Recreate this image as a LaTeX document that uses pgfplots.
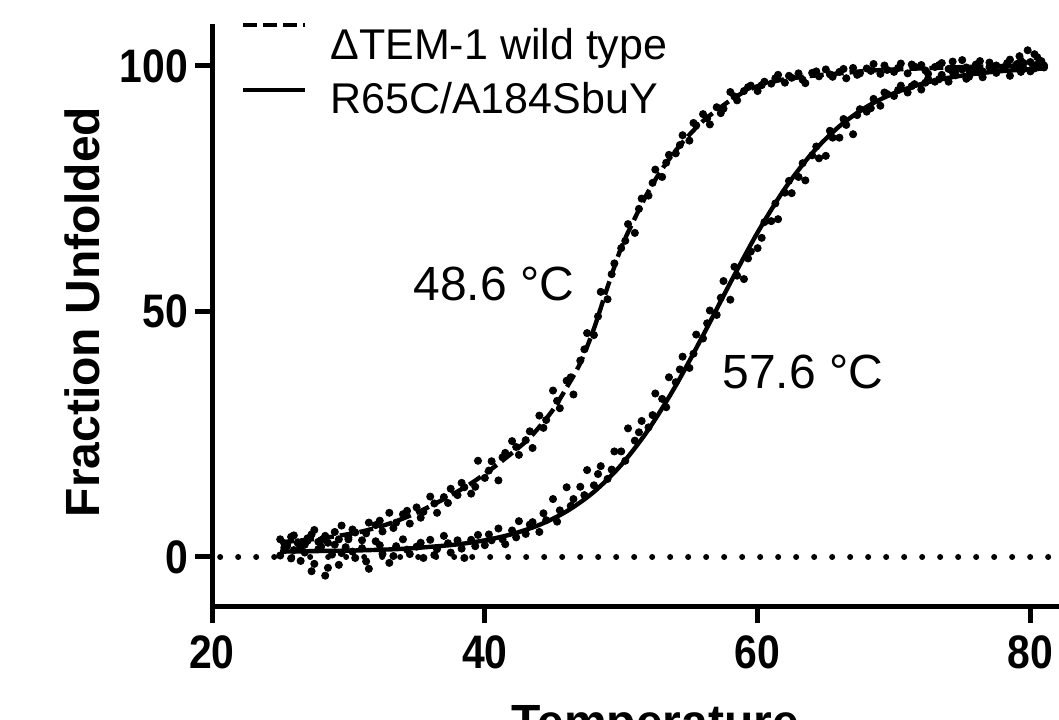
\documentclass[border=0pt]{standalone}
\usepackage{fontspec}
\setmainfont{Liberation Sans}
\newfontfamily\tickfont{Liberation Sans}[FakeStretch=0.87]
\usepackage{pgfplots}
\pgfplotsset{compat=1.18}

% scattered readings, wild type
\pgfplotstableread{
x y
25.0 3.6
25.5 2.2
26.0 4.4
26.5 1.9
27.0 3.8
27.5 5.5
28.0 3.4
28.5 2.9
29.0 5.1
29.5 6.4
30.0 4.0
30.5 5.0
31.0 3.4
31.5 7.0
32.0 6.5
32.5 5.2
33.0 9.0
33.5 7.0
34.0 8.7
34.5 6.8
35.0 10.1
35.5 9.2
36.0 12.3
36.5 9.0
37.0 12.2
37.5 13.9
38.0 12.6
38.5 14.2
39.0 12.9
39.5 19.6
40.0 16.1
40.5 19.5
41.0 15.6
41.5 21.2
42.0 23.6
42.5 20.8
43.0 23.8
43.5 22.2
44.0 28.8
44.5 27.9
45.0 33.9
45.5 30.3
46.0 35.9
46.5 33.1
47.0 40.0
47.5 45.6
48.0 45.2
48.5 54.0
49.0 52.5
49.5 59.8
50.0 62.9
50.5 67.8
51.0 66.0
51.5 73.0
52.0 73.6
52.5 78.9
53.0 77.4
53.5 81.9
54.0 82.2
54.5 85.9
55.0 84.8
55.5 87.9
56.0 90.2
56.5 88.1
57.0 91.6
57.5 91.3
58.0 94.7
58.5 93.0
59.0 94.9
59.5 96.0
60.0 94.9
60.5 96.8
61.0 96.4
61.5 98.2
62.0 96.6
62.5 97.6
63.0 98.5
63.5 96.5
64.0 98.6
64.5 97.9
65.0 99.3
65.5 97.8
66.0 98.8
66.5 97.5
67.0 99.6
67.5 98.5
68.0 99.5
68.5 100.4
69.0 98.4
69.5 99.2
70.0 98.8
70.5 100.5
71.0 98.5
71.5 99.9
72.0 100.2
72.5 98.4
73.0 99.8
73.5 100.6
74.0 99.4
74.5 99.0
75.0 101.2
75.5 99.2
76.0 100.3
76.5 98.9
77.0 100.7
77.5 100.1
78.0 99.6
78.5 101.3
79.0 100.4
79.2 102.0
79.5 99.4
79.8 103.2
80.0 100.8
80.3 102.4
80.5 101.8
81.0 100.1
25.3 2.8
25.8 4.1
26.3 3.0
26.8 2.5
27.3 4.6
27.8 3.1
28.3 4.3
29.3 3.6
30.3 5.6
31.3 4.8
32.3 7.4
33.3 5.9
34.3 9.4
35.3 8.0
36.3 10.9
37.3 11.0
38.3 15.1
39.3 14.3
40.3 17.6
41.3 20.3
42.3 22.4
43.3 25.6
44.3 26.3
45.3 31.8
46.3 36.6
47.3 42.3
48.3 49.0
49.3 57.6
50.3 64.4
51.3 70.9
52.3 76.2
53.3 80.3
54.3 83.9
55.3 88.4
56.3 89.3
57.3 90.4
58.3 93.8
59.3 95.7
60.3 96.1
61.3 97.5
62.3 98.0
63.3 97.2
64.3 98.9
65.3 98.3
66.3 99.4
67.3 98.2
68.3 99.0
69.3 100.1
70.3 99.6
71.3 100.3
72.3 99.1
73.3 100.2
74.3 100.9
75.3 99.7
76.3 101.0
77.3 99.3
78.3 100.6
79.3 101.1
80.3 99.8
80.8 101.0
}\wtdata

% scattered readings, R65C/A184SbuY
\pgfplotstableread{
x y
25.0 0.3
25.5 2.6
26.0 1.4
26.5 -0.8
27.0 3.3
27.5 -1.4
28.0 2.1
28.5 -2.2
29.0 2.5
29.5 0.8
30.0 3.6
30.5 -0.2
31.0 1.8
31.5 -2.4
32.0 3.2
32.5 0.6
33.0 -1.2
33.5 2.2
34.0 3.6
34.5 0.6
35.0 2.1
35.5 -0.2
36.0 3.5
36.5 1.6
37.0 4.3
37.5 0.9
38.0 3.4
38.5 -0.2
39.0 3.5
39.5 4.5
40.0 2.4
40.5 3.4
41.0 5.8
41.5 2.6
42.0 5.4
42.5 7.3
43.0 4.7
43.5 7.1
44.0 5.1
44.5 7.5
45.0 11.8
45.5 9.5
46.0 14.2
46.5 11.8
47.0 14.3
47.5 17.7
48.0 14.6
48.5 18.5
49.0 15.9
49.5 21.5
50.0 21.5
50.5 26.2
51.0 23.7
51.5 27.7
52.0 26.4
52.5 33.3
53.0 32.2
53.5 36.6
54.0 35.6
54.5 40.8
55.0 38.5
55.5 45.3
56.0 44.5
56.5 50.2
57.0 49.3
57.5 56.2
58.0 52.4
58.5 57.3
59.0 56.6
59.5 62.2
60.0 62.9
60.5 68.2
61.0 68.4
61.5 68.8
62.0 74.2
62.5 74.1
63.0 77.4
63.5 76.7
64.0 81.8
64.5 81.2
65.0 81.7
65.5 85.4
66.0 85.4
66.5 88.0
67.0 86.1
67.5 91.2
68.0 90.7
68.5 93.3
69.0 91.9
69.5 94.3
70.0 93.9
70.5 96.0
71.0 94.6
71.5 96.3
72.0 95.2
72.5 97.4
73.0 96.8
73.5 98.2
74.0 96.8
74.5 98.1
75.0 99.3
75.5 97.8
76.0 99.0
76.5 97.7
77.0 99.8
77.5 98.6
78.0 99.7
78.5 98.0
79.0 99.7
79.5 100.6
80.0 98.9
80.5 100.3
81.0 99.7
25.3 1.9
25.8 -0.3
26.3 2.8
26.8 0.9
27.3 -2.9
27.8 1.6
28.3 -3.8
28.8 0.5
29.3 -1.6
29.8 2.0
30.3 1.1
31.3 -0.9
32.3 2.4
33.3 0.2
34.3 1.5
35.3 2.9
36.3 0.4
37.3 2.8
38.3 1.7
39.3 2.2
40.3 4.6
41.3 3.6
42.3 4.0
43.3 6.6
44.3 8.9
45.3 7.2
46.3 10.4
47.3 12.6
48.3 16.9
49.3 17.8
50.3 19.6
51.3 25.4
52.3 28.9
53.3 30.5
54.3 38.2
55.3 41.4
56.3 47.6
57.3 52.8
58.3 59.1
59.3 60.8
60.3 65.0
61.3 72.0
62.3 76.6
63.3 80.2
64.3 83.6
65.3 86.8
66.3 89.2
67.3 90.0
68.3 91.4
69.3 94.6
70.3 95.1
71.3 95.9
72.3 96.6
73.3 97.3
74.3 98.8
75.3 97.4
76.3 98.6
77.3 99.1
78.3 100.2
79.3 98.8
80.3 99.5
80.8 100.8
}\mutdata

\begin{document}
\begin{tikzpicture}
\begin{axis}[
  x=6.82pt, y=2.455pt,
  xmin=20, xmax=85, ymin=-10, ymax=108.6,
  axis x line*=bottom, axis y line*=left,
  axis line style={line width=2.5pt,-},
  xtick={20,40,60,80}, ytick={0,50,100},
  tick align=outside, major tick length=8.5pt,
  tick style={line width=2.5pt,black},
  /pgf/number format/assume math mode=true,
  ticklabel style={font=\tickfont\bfseries\fontsize{23.5}{23.5}\selectfont},
  xticklabel style={yshift=-3pt},
  clip=false,
]
\addplot[black,line width=3pt,dash pattern=on 0pt off 9pt,line cap=round] coordinates {(20.6,0)(85,0)};

\addplot[only marks,mark=*,mark size=1.8pt,black] table {\wtdata};
\addplot[only marks,mark=*,mark size=1.8pt,black] table {\mutdata};

% fitted curves
\addplot[black,line width=2.2pt,dash pattern=on 7pt off 3pt,smooth] coordinates {
(25,3.0)(27,3.5)(29,4.2)(31,5.2)(33,6.8)(35,9.0)(37,11.8)(39,15.0)(41,19.0)(43,23.5)
(44,26.5)(45,30.0)(46,34.5)(47,39.5)(48,46.5)(49,55.0)(50,63.0)(51,69.0)(52,74.5)
(53,79.0)(54,82.8)(55,86.0)(56,88.8)(57,91.0)(58,93.0)(59,94.7)(60,95.9)(61,96.7)
(62,97.3)(64,98.0)(66,98.5)(68,99.0)(70,99.3)(74,99.7)(78,100.0)(81,100.3)};
\addplot[black,line width=2.2pt,smooth] coordinates {
(25,1.09)(28,1.22)(31,1.36)(34,1.66)(36,2.07)(38,2.57)(40,3.40)(42,4.66)(44,6.54)
(46,9.30)(48,13.26)(50,18.74)(52,25.97)(54,34.9)(56,45.14)(58,55.85)(60,66.09)
(62,75.04)(64,82.26)(66,87.74)(68,91.7)(70,94.46)(72,96.34)(74,97.6)(76,98.43)
(78,98.98)(80,99.34)(81,99.47)};

% legend
\draw[black,line width=2.2pt,dash pattern=on 7pt off 3pt] (axis cs:22.3,108.35) -- (axis cs:26.8,108.35);
\draw[black,line width=2.2pt] (axis cs:22.3,95.1) -- (axis cs:26.8,95.1);
\node[anchor=base west,inner sep=0pt,font=\fontsize{21.5}{21.5}\selectfont] at (axis cs:28.65,101.4) {ΔTEM-1 wild type};
\node[anchor=base west,inner sep=0pt,font=\fontsize{21.5}{21.5}\selectfont] at (axis cs:28.65,90.4) {R65C/A184SbuY};

% melting temperatures
\node[anchor=base west,inner sep=0pt,font=\fontsize{24}{24}\selectfont] at (axis cs:34.74,52.3) {48.6 °C};
\node[anchor=base west,inner sep=0pt,font=\fontsize{24}{24}\selectfont] at (axis cs:57.4,34.4) {57.6 °C};

% axis titles
\node[rotate=90,inner sep=0pt,font=\bfseries\fontsize{24}{24}\selectfont] at (axis cs:10.47,49.9) {Fraction Unfolded};
\node[anchor=north,inner sep=0pt,font=\bfseries\fontsize{24}{24}\selectfont] at (axis cs:52.5,-30.1) {Temperature};

\coordinate (bl) at (axis cs:4.457,-33.2);
\coordinate (tr) at (axis cs:82.097,113.44);
\end{axis}
\pgfresetboundingbox
\path[use as bounding box] (bl) rectangle (tr);
\end{tikzpicture}
\end{document}
